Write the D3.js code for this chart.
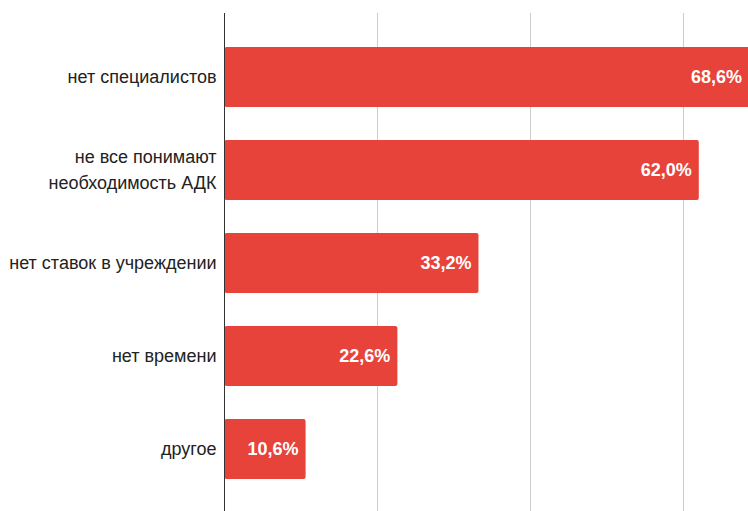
<!DOCTYPE html>
<html><head><meta charset="utf-8">
<script src="https://cdn.jsdelivr.net/npm/d3@7"></script>
<style>html,body{margin:0;padding:0;background:#fff;overflow:hidden}</style>
</head><body>
<svg id="c" width="748" height="511"></svg>
<script>
const categories = ["нет специалистов", "не все понимают\nнеобходимость АДК", "нет ставок в учреждении", "нет времени", "другое"];
const values = [68.6, 62.0, 33.2, 22.6, 10.6];
const gridTicks = [20, 40, 60];
const valueLabels = ["68,6%", "62,0%", "33,2%", "22,6%", "10,6%"];

const svg = d3.select("#c");
const x0 = 224.5;
const x = d3.scaleLinear().domain([0, 20]).range([x0, x0 + 153]);
const y = d3.scaleBand().domain(categories).range([30.5, 495.5]).paddingInner(0.355).paddingOuter(0.1775);

// gridlines
svg.append("g").selectAll("line").data(gridTicks).join("line")
  .attr("x1", d => Math.floor(x(d)) + 0.5).attr("x2", d => Math.floor(x(d)) + 0.5)
  .attr("y1", 13).attr("y2", 511)
  .attr("stroke", "#cccccc").attr("stroke-width", 1);

// bars
const data = categories.map((c, i) => ({c, v: values[i], l: valueLabels[i]}));
svg.append("g").selectAll("rect").data(data).join("rect")
  .attr("x", x(0)).attr("y", d => y(d.c))
  .attr("width", d => x(d.v) - x(0)).attr("height", y.bandwidth())
  .attr("rx", 2).attr("fill", "#e8433a");

// value labels
svg.append("g").selectAll("text").data(data).join("text")
  .attr("x", d => Math.min(x(d.v), 749) - 7)
  .attr("y", d => y(d.c) + y.bandwidth() / 2)
  .attr("dy", "0.35em").attr("text-anchor", "end")
  .attr("font-family", "Liberation Sans, Arial, sans-serif")
  .attr("font-weight", "bold").attr("font-size", 18)
  .attr("fill", "#ffffff").text(d => d.l);

// axis line
svg.append("line").attr("x1", x0).attr("x2", x0).attr("y1", 13).attr("y2", 511)
  .attr("stroke", "#333333").attr("stroke-width", 1);

// category labels
const yAxis = d3.axisLeft(y).tickSize(0).tickPadding(8);
const ga = svg.append("g").attr("transform", `translate(${x0},0)`).call(yAxis);
ga.select(".domain").remove();
ga.selectAll("text")
  .attr("font-family", "Liberation Sans, Arial, sans-serif")
  .attr("font-size", 18).attr("fill", "#222222")
  .each(function(d) {
    const lines = d.split("\n");
    const t = d3.select(this).text(null).attr("dy", null);
    const lh = 26;
    lines.forEach((ln, i) => {
      t.append("tspan").attr("x", -8)
        .attr("dy", i === 0 ? (0.35 * 18 - (lines.length - 1) * lh / 2) + "px" : lh + "px")
        .text(ln);
    });
  });
</script>
</body></html>
